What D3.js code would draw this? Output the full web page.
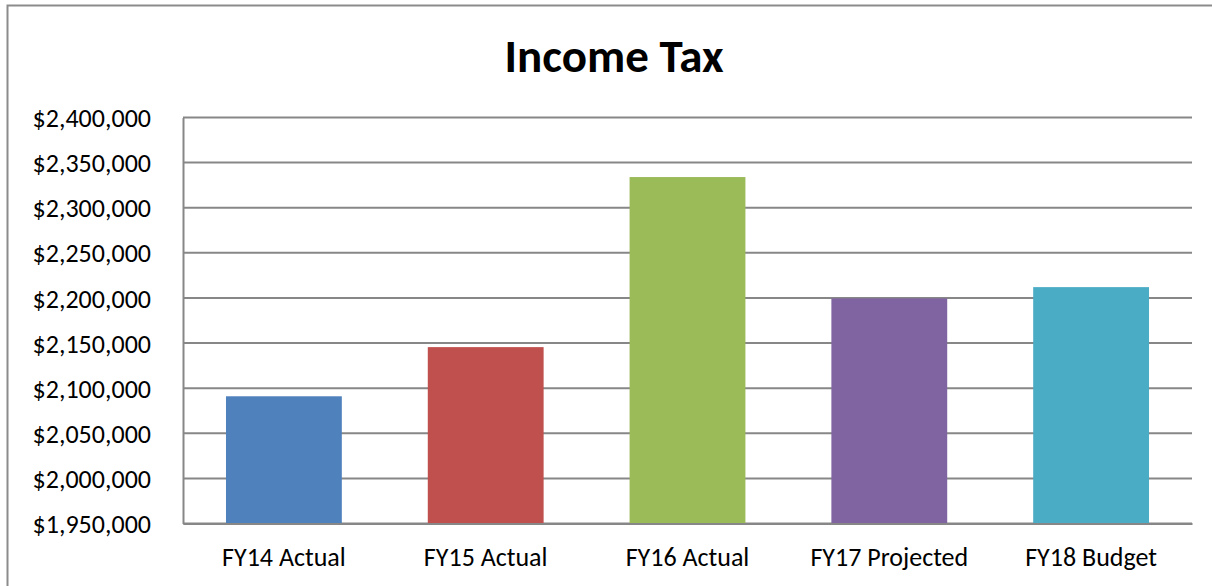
<!DOCTYPE html>
<html lang="en">
<head>
  <meta charset="utf-8">
  <title>Income Tax</title>
  <script src="https://d3js.org/d3.v7.min.js"></script>
  <style>
    body { margin: 0; background: #fff; }
    text { font-family: Carlito, "Open Sans", "Noto Sans", sans-serif; fill: #000; }
  </style>
</head>
<body>
  <div id="chart"></div>
  <script>
    // Chart data
    var categories = ["FY14 Actual", "FY15 Actual", "FY16 Actual", "FY17 Projected", "FY18 Budget"];
    var values = [2091000, 2145500, 2334000, 2199500, 2212000];
    var colors = ["#4F81BD", "#C0504D", "#9BBB59", "#8064A2", "#4BACC6"];
    var yTicks = [1950000, 2000000, 2050000, 2100000, 2150000, 2200000, 2250000, 2300000, 2350000, 2400000];

    var W = 1212, H = 586;
    var margin = { top: 117.5, right: 20, bottom: 62.5, left: 183 },
      width = W - margin.left - margin.right,
      height = H - margin.top - margin.bottom;

    var svg = d3.select("#chart").append("svg")
      .attr("width", W)
      .attr("height", H);

    // outer chart border
    svg.append("rect")
      .attr("x", 7.5).attr("y", 5.5)
      .attr("width", W + 20).attr("height", H + 20)
      .attr("fill", "none")
      .attr("stroke", "#8c8c8c")
      .attr("stroke-width", 2);

    svg.append("text")
      .attr("x", 614).attr("y", 72)
      .attr("text-anchor", "middle")
      .style("font-size", "47px")
      .style("font-weight", "bold")
      .text("Income Tax");

    var g = svg.append("g")
      .attr("transform", "translate(" + margin.left + "," + margin.top + ")");

    var x = d3.scaleBand().domain(categories).range([0, width]).paddingInner(0.426).paddingOuter(0.213);
    var y = d3.scaleLinear().domain([1950000, 2400000]).range([height, 0]);

    // gridlines
    g.append("g").selectAll("line").data(yTicks).enter()
      .append("line")
      .attr("x1", 0).attr("x2", width)
      .attr("y1", d => y(d)).attr("y2", d => y(d))
      .attr("stroke", "#878787")
      .attr("stroke-width", 2);

    // bars
    g.append("g").selectAll("rect").data(values).enter()
      .append("rect")
      .attr("x", (d, i) => x(categories[i]))
      .attr("y", d => y(d))
      .attr("width", x.bandwidth())
      .attr("height", d => height - y(d))
      .attr("fill", (d, i) => colors[i]);

    // y axis
    var fmt = d3.format("$,.0f");
    var yAxis = g.append("g")
      .call(d3.axisLeft(y).tickValues(yTicks).tickFormat(fmt).tickSize(0).tickPadding(32));
    yAxis.select(".domain").attr("stroke", "#878787").attr("stroke-width", 2);
    yAxis.selectAll("text").style("font-size", "26px").attr("dy", "0.35em");

    // x axis
    var xAxis = g.append("g")
      .attr("transform", "translate(0," + height + ")")
      .call(d3.axisBottom(x).tickSize(0).tickPadding(24));
    xAxis.select(".domain").attr("stroke", "#878787").attr("stroke-width", 2);
    xAxis.selectAll("text").style("font-size", "26px");
  </script>
</body>
</html>
